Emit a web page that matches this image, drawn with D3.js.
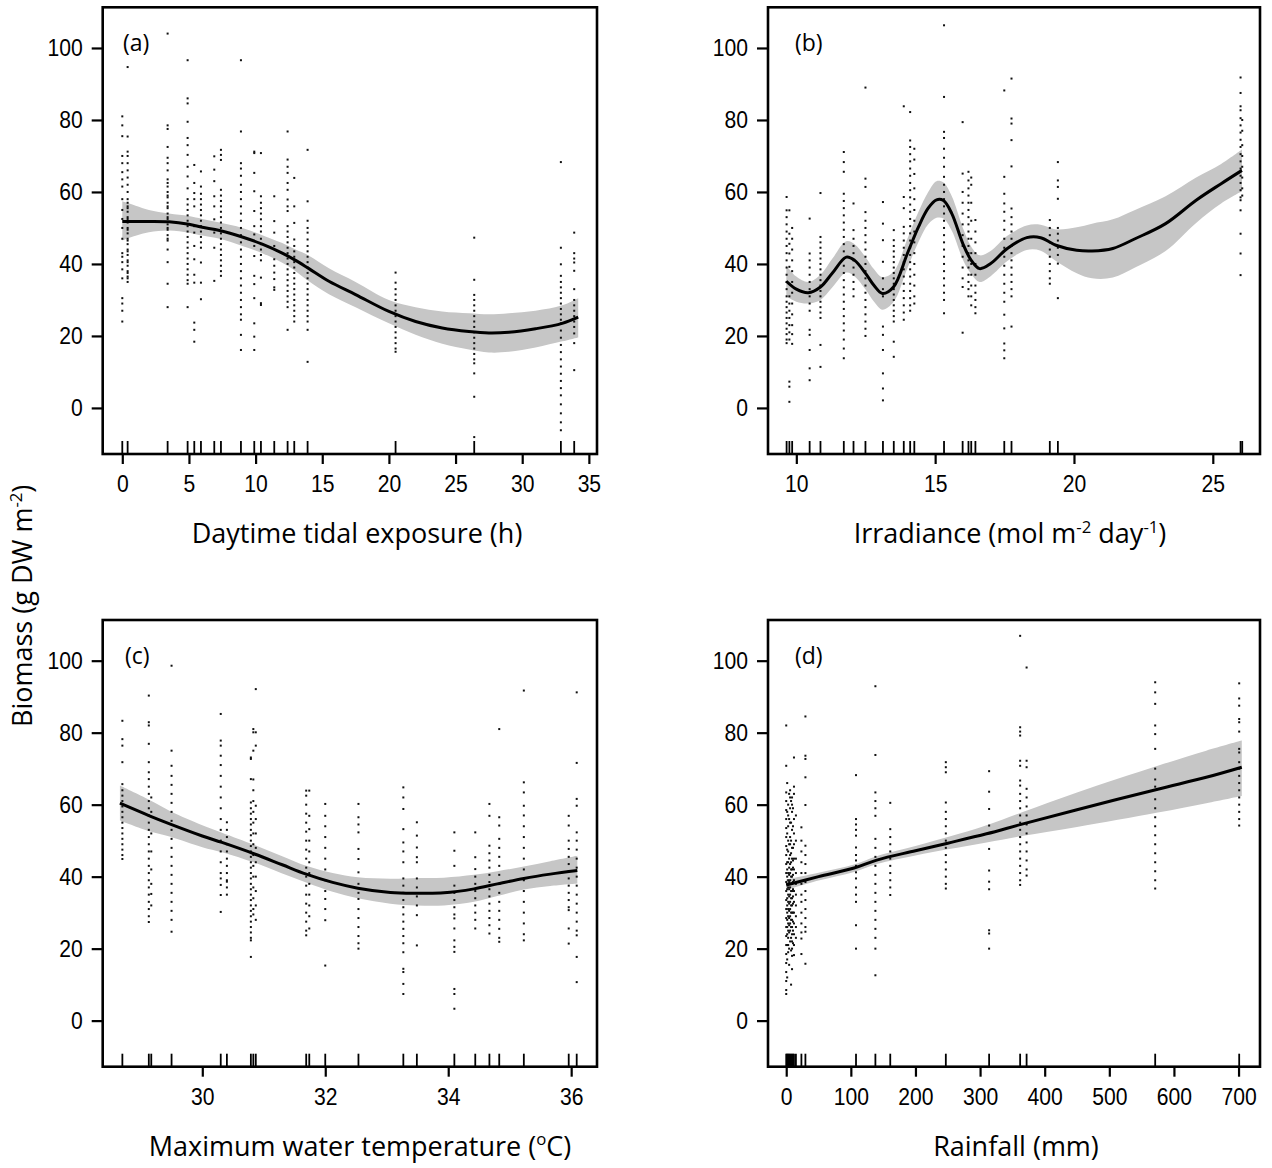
<!DOCTYPE html>
<html>
<head>
<meta charset="utf-8">
<script src="https://cdn.jsdelivr.net/npm/d3@7"></script>
<style>
  body { margin: 0; background: #fff; }
</style>
</head>
<body>
<svg id="chart" width="1272" height="1168"></svg>
<script>
// ---------- (a) daytime tidal exposure ----------
const aFitX  = [0, 1, 2, 3.5, 5, 6, 7.3, 9, 10.5, 12, 13, 14, 15.5, 17.5, 20, 22, 24, 26, 27.5, 29, 31, 33, 34.2];
const aFit   = [51.8, 51.8, 51.8, 51.7, 51.0, 50.2, 49.3, 47.5, 45.5, 43.0, 41.0, 38.7, 35.2, 31.5, 26.8, 24.0, 22.2, 21.2, 20.8, 21.0, 22.0, 23.5, 25.2];
const aUpper = [57.4, 56.2, 55.0, 54.0, 53.3, 52.5, 51.5, 50.0, 48.0, 45.8, 44.0, 42.3, 38.8, 35.0, 30.0, 28.0, 26.8, 26.3, 26.0, 26.3, 27.0, 28.5, 30.5];
const aLower = [46.5, 47.8, 48.8, 49.3, 48.7, 47.9, 47.0, 45.0, 43.0, 40.3, 38.0, 35.2, 31.6, 28.0, 23.5, 20.3, 17.8, 16.2, 15.4, 15.6, 16.8, 18.5, 19.6];
const aCols = [
  [0, [81, 78.5, 75.5, 70, 68, 65.5, 63.5, 61.5, 58, 55, 52.5, 50, 47, 43, 42, 40.5, 38.5, 36, 30.5, 29, 27, 24]],
  [0.4, [94.7, 75.4, 71.2, 70, 68, 66, 64, 62, 60, 58, 57, 56, 55.5, 54.5, 53, 52.5, 51.5, 50, 49.5, 48.5, 47, 46.5, 45.5, 44, 43.5, 42.5, 41, 40.5, 39.5, 38, 37.5, 36.5, 36, 35]],
  [3.4, [104, 78.5, 77.5, 72.5, 69.5, 68, 66, 63.5, 62.5, 61.5, 60, 59, 58.5, 57, 56, 55.5, 54, 53, 52.5, 51, 50, 49.5, 48, 47, 46.5, 44, 40.5, 34.5, 28]],
  [4.9, [96.6, 86, 84.6, 79.5, 75, 73, 70.3, 67, 64.3, 61, 58, 56.5, 55, 53.5, 52, 50.5, 49, 47.5, 46, 44.5, 43, 41.5, 40, 38.5, 37, 35.5, 34.5, 28]],
  [5.4, [67.5, 62.5, 59.7, 58, 56, 50.5, 48.7, 45, 41.3, 37, 34.8, 23.7, 21.7, 18.4]],
  [5.9, [65.7, 61.5, 59.5, 58, 56.5, 55, 53.5, 52, 50.5, 49, 47.5, 46, 44.5, 40.4, 34.8, 30.2]],
  [6.9, [69.9, 66.2, 63, 58.8, 56, 52.4, 48.7, 44.5, 35.3]],
  [7.4, [71.7, 70.3, 68.9, 60.6, 59, 57.5, 56, 54.5, 53, 51.5, 50, 48.5, 47, 45.5, 44, 42.5, 41, 39.5, 38, 36.7]],
  [8.9, [96.6, 76.8, 68, 66.5, 64.5, 62, 60, 58, 56, 54, 52, 50, 48, 46, 44, 42, 40, 38, 36, 34, 32, 30, 28, 26, 24.5, 20.3, 16.1]],
  [9.9, [71.2, 70.8, 65.3, 60.2, 54.7, 50.5, 48.2, 45, 42.2, 36.7, 34.4, 30.5, 23.5, 19.8, 16.1]],
  [10.4, [70.8, 58.8, 57, 55.5, 54, 52.4, 50.5, 49, 47, 45.5, 44, 42.5, 41, 36.2, 29.1, 28.6]],
  [11.4, [58.8, 51.9, 48.7, 45, 41.3, 39.5, 37.6, 35.8, 33.5, 32.8]],
  [12.4, [76.8, 69, 67, 65.3, 62.5, 60.6, 57.9, 56, 54.7, 50.5, 49, 47.5, 46, 44.5, 43, 41.5, 40, 38.5, 37, 35.5, 34, 32.5, 31, 29.5, 28, 21.7]],
  [12.9, [63.9, 56, 51.4, 46.8, 45, 43.5, 42, 40.5, 39, 37.5, 36, 34.5, 33, 31.5, 30, 28.5, 27, 25.5, 24]],
  [13.9, [71.7, 57.4, 52, 50, 48.7, 46.8, 45, 43.5, 42, 40.5, 39, 37.5, 36, 34.5, 33, 31.5, 30, 28.5, 27, 25.5, 24, 21.7, 12.8]],
  [20.5, [37.6, 34.8, 33, 31.5, 30, 28.5, 27, 25.5, 24, 22.5, 21, 19.5, 18, 16.5, 15.6]],
  [26.4, [47.3, 35.6, 31.4, 30, 28.5, 27, 25.5, 24, 22.5, 21, 19.5, 18, 16.5, 15, 13.5, 12.4, 9.6, 3.1, -8.1]],
  [32.9, [68.3, 44.5, 39.9, 36.7, 35, 33.5, 32, 30.5, 29, 27.5, 26, 24.5, 23.5, 21.5, 19.5, 17.5, 15.5, 13.5, 11.5, 9.5, 7.5, 5.5, 3.5, 1, -1.5, -4, -6.2]],
  [33.9, [48.7, 43, 41.5, 40.4, 38.1, 33, 30, 28.5, 27, 25.5, 24, 22.5, 20.7, 18, 10.5]]
];

// ---------- (b) irradiance ----------
const bFitX  = [9.64, 10.0, 10.43, 10.87, 11.3, 11.8, 12.1, 12.5, 12.8, 13.1, 13.5, 14.0, 14.4, 14.75, 15.05, 15.3, 15.6, 16.0, 16.3, 16.6, 17.0, 17.6, 18.3, 18.8, 19.35, 20.1, 20.65, 21.4, 22.2, 23.3, 24.4, 25.3, 26.05];
const bFit   = [35.2, 33.0, 32.0, 33.6, 37.5, 41.9, 41.0, 37.3, 34.0, 31.8, 33.6, 42.9, 50.3, 55.5, 57.8, 57.6, 54.0, 45.6, 41.0, 38.7, 40.1, 44.3, 47.3, 47.3, 45.2, 43.8, 43.6, 44.3, 47.0, 51.2, 57.7, 62.3, 66.0];
const bUpper = [39.6, 36.5, 35.0, 37.0, 41.5, 46.3, 45.5, 41.8, 38.5, 36.3, 37.8, 47.0, 54.5, 60.0, 63.0, 62.6, 58.8, 50.0, 44.8, 42.4, 43.6, 47.8, 50.7, 50.9, 49.6, 50.2, 51.2, 52.4, 55.0, 58.8, 64.0, 67.8, 71.8];
const bLower = [31.0, 29.5, 29.0, 30.0, 33.5, 37.6, 36.5, 32.8, 29.5, 27.3, 29.4, 38.8, 46.1, 51.0, 52.8, 52.6, 49.2, 41.2, 37.2, 35.0, 36.6, 40.8, 43.9, 43.7, 40.8, 37.4, 36.0, 36.2, 39.0, 43.6, 51.4, 56.8, 60.2];
const bCols = [
  [9.65, [58.6, 54.9, 53, 51, 49, 47, 45, 43, 41, 39, 37, 35, 33, 31, 29.5, 28, 26.5, 25, 23.5, 22, 20.5, 19, 18]],
  [9.75, [54.9, 48.4, 45.6, 42.9, 39.2, 34.5, 31, 29, 27, 25, 23, 21, 19, 7.3, 5.9, 1.7]],
  [9.85, [50, 47, 44, 41, 38, 35, 32, 29, 26, 23, 20.5, 17.8]],
  [10.48, [52.6, 42.9, 41, 39, 37, 35, 33, 31, 29, 27, 21.7, 20.3, 16.1, 11, 7.7]],
  [10.87, [59.7, 47.5, 46, 44.5, 43, 41.5, 40, 38.5, 37, 35.5, 34, 32.5, 31, 29.5, 28, 26.5, 25, 17.5, 11.4]],
  [11.71, [71.1, 68.3, 65.6, 59.5, 57.5, 55.5, 53.5, 51.5, 49.5, 47.5, 45.5, 43.5, 41.5, 39.5, 37.5, 35.5, 33.5, 31.5, 29.5, 27.5, 25.5, 23.5, 21.5, 19, 16.5, 13.8]],
  [12.06, [56.8, 49.4, 47, 45, 43, 41, 39, 37, 35, 33, 31]],
  [12.49, [89, 63.7, 61.4, 54.4, 52, 50, 48, 46, 44, 42, 40, 38, 36, 34, 32, 30, 28, 26, 24, 22, 20]],
  [13.12, [57.2, 51.2, 46.6, 40.6, 36, 33, 31, 22.6, 20.3, 16.1, 9.6, 5.4, 2.1]],
  [13.51, [49.4, 46.6, 45, 43.5, 42, 40.5, 39, 37.5, 36, 34.5, 33, 31.5, 30, 28.5, 27, 25.5, 24, 18.4, 14.2]],
  [13.87, [83.8, 58.6, 55.5, 50.3, 48.5, 46.5, 44.5, 42.5, 40.5, 38.5, 36.5, 34.5, 32.5, 30.5, 28.5, 26.5, 24.5]],
  [14.1, [82.2, 74.3, 72.5, 70.5, 68.5, 66.5, 64.5, 62.5, 60.5, 58.5, 56.5, 54.5, 52.5, 50.5, 48.5, 46.5, 44.5, 42.5, 40.5, 38.5, 36.5, 34.5, 32.5, 30.5, 28.5, 27]],
  [14.25, [72, 69, 65, 61, 58, 55, 52, 49, 46, 43, 40, 37, 34, 31, 29]],
  [15.32, [106.3, 86.4, 76.7, 75, 72, 69.5, 67, 64.2, 62, 60, 58, 56, 54, 52, 50, 48, 46, 44, 42, 40, 38, 36, 34, 32, 30, 26.3]],
  [15.99, [79.4, 65.1, 60, 57, 54, 51, 48, 45, 42, 39, 36, 33.6, 20.9]],
  [16.2, [65.6, 63.2, 61, 59, 57, 55, 53, 51, 49, 47, 45, 43, 41, 39, 37, 35, 33, 31]],
  [16.3, [64, 62, 57, 52, 47, 43, 40, 37, 34, 31, 28.5]],
  [16.45, [52.2, 49, 46, 43, 40, 37, 34, 32, 30, 28, 26.3]],
  [17.49, [88.2, 64.2, 59.5, 56.8, 54.5, 52, 49.5, 47, 44.5, 42, 39.5, 37, 34.5, 32, 29.5, 25.9, 22.1, 17.9, 16, 13.8]],
  [17.75, [91.5, 80.4, 79, 74.4, 67.1, 55.4, 53, 51, 49, 47, 45, 43, 41, 39, 37, 35, 33, 31, 22.6]],
  [19.13, [52.2, 50, 48, 46, 44, 42, 40, 38, 36, 34.5]],
  [19.42, [68.3, 63.2, 61.4, 58.1, 50, 48.4, 46.5, 44.5, 42.5, 40.1, 30.5]],
  [26.0, [91.8, 87.5, 83.8, 82.7, 80.5, 78.5, 76.5, 74.5, 72.5, 70.5, 68.5, 66.5, 64.5, 62.5, 60.5, 58.5, 57.7, 54.9, 48.4, 42.9, 36.9]],
  [26.06, [80, 77, 73, 70, 67, 64, 61, 59]]
];

// ---------- (c) maximum water temperature ----------
const cFitX  = [28.66, 29.14, 29.48, 30.0, 30.32, 30.85, 31.3, 31.69, 32.12, 32.53, 33.06, 33.49, 33.93, 34.42, 34.8, 35.23, 35.66, 36.1];
const cFit   = [60.4, 56.9, 54.6, 51.3, 49.5, 46.3, 43.3, 40.7, 38.4, 36.8, 35.6, 35.4, 35.5, 36.6, 38.0, 39.5, 40.7, 41.7];
const cUpper = [65.3, 61.3, 58.2, 54.3, 52.2, 48.8, 45.7, 43.0, 41.0, 39.8, 39.4, 39.6, 39.7, 40.5, 41.5, 42.8, 44.3, 45.8];
const cLower = [55.6, 52.6, 51.1, 48.2, 46.8, 43.9, 40.9, 38.4, 35.8, 34.0, 32.5, 32.0, 32.0, 33.0, 34.6, 36.4, 37.4, 38.1];
const cCols = [
  [28.7, [83.3, 78.2, 76.4, 71.8, 65.7, 64, 62.5, 61, 59.5, 58, 56.5, 55, 53.5, 52, 50.5, 49, 47.5, 46, 44.9]],
  [29.13, [90.3, 82.9, 82, 76.9, 71.8, 69, 67.1, 65, 63, 61, 59, 57, 55, 53, 51, 49, 47, 45, 43, 41, 39, 37, 35, 33, 31, 29, 27.4]],
  [29.17, [62, 58, 52, 47, 42, 38, 35.2, 32]],
  [29.5, [98.6, 75, 70.8, 68, 65.5, 63, 60.5, 58, 55.5, 53, 50.5, 48, 45.5, 43, 40.5, 38, 35.5, 33, 30.5, 28, 24.7]],
  [30.3, [85.2, 77.8, 76.4, 73.6, 71, 68, 65, 62, 59, 56, 53, 50, 47, 44, 41, 39.5, 37.7, 34.9, 30.2]],
  [30.4, [55.1, 53, 51, 49, 47, 45, 43, 41, 39, 38.6, 37, 35]],
  [30.79, [73.1, 72.7, 67.1, 60.6, 59, 57.5, 56, 54.5, 53, 51.5, 50, 48.5, 47, 45.5, 44, 42.5, 41, 39.5, 38, 36.5, 35, 33.5, 32, 30.5, 29, 27.5, 26, 24.5, 23, 22.3, 17.7]],
  [30.83, [81, 80.1, 75, 67, 64, 61, 58, 55, 52, 49, 46, 43, 40, 37, 34, 31, 29.5]],
  [30.87, [92.1, 80.1, 76.4, 59.7, 56, 52, 48, 44, 40, 36, 32, 28]],
  [31.69, [63.9, 62.5, 60, 57.5, 55, 52.5, 50, 47.5, 45, 42.5, 40, 37.5, 35, 32.5, 30, 27.5, 25, 23.7]],
  [31.74, [63.9, 56.9, 53.2, 50, 47, 44, 41, 38, 35, 32, 29, 25.6]],
  [32.0, [60.2, 56.9, 54, 51, 48, 45, 42, 39, 36, 33.8, 31, 27.9, 15.3]],
  [32.54, [60.2, 56.5, 54.5, 52.3, 47.7, 44.9, 41.2, 38, 35.5, 33.8, 31, 28.5, 26, 23.5, 21.5, 20]],
  [33.27, [64.8, 62, 58.8, 53.2, 49.5, 47, 44, 39.5, 37.5, 35.5, 33.5, 31.5, 29.5, 27.5, 25.5, 23.5, 21.5, 19, 14.4, 13.5, 10.2, 7.4]],
  [33.49, [55.1, 51.4, 48.1, 45.4, 44, 39.5, 37, 34.5, 32, 29.3, 20.9]],
  [34.1, [52.3, 47.2, 43, 37.5, 35.5, 33.5, 31.5, 29.5, 28.4, 25.6, 22.3, 20.5, 19.1, 8.8, 7.4, 3.3]],
  [34.44, [52.3, 45.4, 42.1, 40, 38, 36, 34, 32, 30, 28, 25.6]],
  [34.67, [60.2, 56.9, 48.6, 46.5, 44.5, 42.5, 40.5, 38.5, 36.5, 34.5, 32.5, 30.5, 28.5, 26.5, 24.2]],
  [34.83, [81, 56.5, 54.2, 50.5, 48, 45.5, 43, 40.5, 38, 35.5, 33, 30.5, 28, 25.5, 23, 21.9]],
  [35.23, [91.7, 66.2, 63.4, 59.7, 57, 54, 51, 48, 45, 42, 39, 36, 33, 30, 27, 24, 22.3]],
  [35.96, [56.9, 54.2, 50, 47.7, 45.5, 43.5, 41.5, 39.5, 37.5, 35.5, 33.5, 31.5, 30.7, 25.6, 21.4]],
  [36.09, [91.2, 71.6, 61.6, 59.7, 52.3, 50, 47.5, 45, 42.5, 40, 37.5, 35, 32.5, 30, 27.5, 25, 23.7, 17.7, 10.7]]
];

// ---------- (d) rainfall ----------
const dFitX  = [0, 50, 105, 140, 200, 250, 310, 365, 450, 575, 650, 705];
const dFit   = [37.7, 40.0, 42.4, 44.6, 47.2, 49.3, 51.9, 54.6, 58.6, 64.3, 67.6, 70.4];
const dUpper = [39.2, 41.1, 43.4, 45.7, 48.5, 51.0, 54.3, 57.9, 63.4, 70.8, 75.0, 77.8];
const dLower = [36.3, 38.9, 41.3, 43.5, 45.9, 47.6, 49.5, 51.3, 53.8, 57.8, 60.4, 62.4];
const dCols = [
  [0, [82, 70.8, 63.4, 61, 58.5, 56, 53.5, 51, 48.5, 46, 43.5, 41, 38.5, 36, 33.5, 31, 28.5, 26, 23.5, 21, 18.5, 16, 13.5, 11, 8.5, 7.4]],
  [1.5, [66, 58, 52, 47.5, 44, 42, 40, 38, 36.5, 34, 32, 30, 28, 26, 24, 21, 17, 12]],
  [3, [60, 57, 54, 50, 47, 44, 41, 39, 37, 35, 33, 31, 29, 27, 25, 23, 21, 19]],
  [4.5, [63, 56, 49, 45, 42.5, 40.5, 38.5, 36.5, 34.5, 32.5, 30.5, 28.5, 26.5, 24.5, 20, 15.5]],
  [6, [64, 62, 59, 55, 51, 49, 46, 43.5, 41, 39, 37, 35, 33, 31, 29, 27, 25, 22]],
  [7.5, [61, 55, 50, 46.5, 44, 42, 40, 38, 36, 34, 32, 30, 28, 26, 23, 19.5, 10]],
  [9, [62, 60, 58, 53, 48, 45, 42, 40, 38, 36, 34, 32, 30, 28, 26, 24, 22, 20, 18, 14.3]],
  [10.5, [59, 54, 48, 44.5, 42.5, 40.5, 38.5, 36.5, 34.5, 32.5, 30, 27.5, 25, 21.5]],
  [12, [73.1, 65, 63, 56, 52, 49, 45, 42, 39, 36, 33, 30, 27, 24, 21, 18.2]],
  [15, [57, 50, 45, 41, 38, 35, 32, 29, 26, 23]],
  [23.5, [53.7, 50, 47, 44, 41, 38, 35, 33, 30, 27, 24.5, 22.8, 18.5]],
  [29.7, [84.5, 73.6, 72.7, 67.6, 59.9, 48.6, 46, 43.5, 41, 38.5, 36, 33.5, 31, 28.5, 26, 24.7, 15.8]],
  [108, [68.2, 56, 54.5, 53, 51.4, 48.1, 46, 44.5, 43, 41.2, 39.5, 37, 35, 33, 26.5, 20]],
  [138, [92.9, 73.8, 63.4, 61, 59, 56.9, 50.5, 48, 45.5, 43, 40.5, 38, 35.5, 33, 30.5, 28, 25.5, 23, 20, 12.6]],
  [161, [60.5, 53.2, 51, 49, 47, 45, 43, 41, 39, 37, 34.9]],
  [247, [71.8, 70.4, 69, 60.6, 58, 56, 54, 52, 50, 48, 46, 44, 42, 40, 38, 36.7]],
  [314, [69.3, 63.6, 58.8, 54.2, 47.7, 41.7, 38.6, 36.5, 25.1, 24.2, 20]],
  [362, [106.9, 81.5, 80.3, 79.2, 72.2, 70.8, 66.7, 65.3, 63, 61, 59, 57, 55, 53, 51, 49, 47, 45, 43, 41, 39, 37.7]],
  [372, [98.1, 72.2, 70.4, 64.4, 62, 59.5, 57, 54.5, 52, 49.5, 47, 44.5, 42, 40.3]],
  [571, [94, 91.2, 88, 82, 79.6, 75.5, 70, 67, 65, 61.5, 59, 56.5, 54, 51.5, 49, 46.5, 44, 41.5, 39, 36.7]],
  [701, [93.7, 89.5, 87.5, 83.8, 82.9, 80.3, 75.5, 74.5, 71.8, 70, 68, 66, 64, 62, 60, 58, 56, 54.2]]
];

// ---------- shared text / ticks ----------
const yTicks = [0, 20, 40, 60, 80, 100];
const yTitle = [{ t: 'Biomass (g DW m' }, { t: '-2', sup: true }, { t: ')' }];

const panels = [
  { tag: '(a)', left: 102.7, right: 597, top: 7.3, xDom: [-1.47, 35.61], xTicks: [0, 5, 10, 15, 20, 25, 30, 35],
    fitX: aFitX, fit: aFit, up: aUpper, lo: aLower, cols: aCols,
    title: [{ t: 'Daytime tidal exposure (h)' }], tagX: 123, titleX: 357 },
  { tag: '(b)', left: 768, right: 1260, top: 7.3, xDom: [8.98, 26.7], xTicks: [10, 15, 20, 25],
    fitX: bFitX, fit: bFit, up: bUpper, lo: bLower, cols: bCols,
    title: [{ t: 'Irradiance (mol m' }, { t: '-2', sup: true }, { t: ' day' }, { t: '-1', sup: true }, { t: ')' }], tagX: 795, titleX: 1010 },
  { tag: '(c)', left: 102.7, right: 597, top: 620, xDom: [28.38, 36.42], xTicks: [30, 32, 34, 36],
    fitX: cFitX, fit: cFit, up: cUpper, lo: cLower, cols: cCols,
    title: [{ t: 'Maximum water temperature (' }, { t: 'o', sup: true }, { t: 'C)' }], tagX: 125, titleX: 360 },
  { tag: '(d)', left: 768, right: 1260, top: 620, xDom: [-28.2, 733.2], xTicks: [0, 100, 200, 300, 400, 500, 600, 700],
    fitX: dFitX, fit: dFit, up: dUpper, lo: dLower, cols: dCols,
    title: [{ t: 'Rainfall (mm)' }], tagX: 795, titleX: 1016 }
];

const yDom = [-12.8, 111.3];
const plotH = 446.7;
const tickFont = "'Liberation Sans', Arial, sans-serif";
const textFont = "'Open Sans', 'Noto Sans', sans-serif";
const squeeze = 0.88; // tick digits are narrow in the source

const svg = d3.select('#chart');

function writeParts(text, parts, size) {
  let raised = false;
  parts.forEach((p) => {
    const ts = text.append('tspan').text(p.t);
    if (p.sup) {
      ts.attr('font-size', size * 0.62).attr('dy', -size * 0.38);
      raised = true;
    } else if (raised) {
      ts.attr('dy', size * 0.38);
      raised = false;
    }
  });
}

panels.forEach((p) => {
  const bottom = p.top + plotH;
  const g = svg.append('g');
  const x = d3.scaleLinear().domain(p.xDom).range([p.left, p.right]);
  const y = d3.scaleLinear().domain(yDom).range([bottom, p.top]);
  const curve = d3.curveCatmullRom.alpha(0.5);

  // confidence band
  const bandRows = p.fitX.map((v, i) => [v, p.up[i], p.lo[i]]);
  g.append('path')
    .datum(bandRows)
    .attr('d', d3.area().x((d) => x(d[0])).y0((d) => y(d[2])).y1((d) => y(d[1])).curve(curve))
    .attr('fill', '#c6c6c6');

  // partial residual points
  const pts = p.cols.flatMap((c) => c[1].map((v) => [c[0], v]));
  g.append('g')
    .selectAll('rect')
    .data(pts)
    .join('rect')
    .attr('x', (d) => x(d[0]) - 1)
    .attr('y', (d) => y(d[1]) - 1)
    .attr('width', 2)
    .attr('height', 2)
    .attr('fill', '#111');

  // smooth
  g.append('path')
    .datum(p.fitX.map((v, i) => [v, p.fit[i]]))
    .attr('d', d3.line().x((d) => x(d[0])).y((d) => y(d[1])).curve(curve))
    .attr('fill', 'none')
    .attr('stroke', '#000')
    .attr('stroke-width', 3)
    .attr('stroke-linejoin', 'round');

  // rug
  g.append('g')
    .selectAll('line')
    .data(p.cols.map((c) => c[0]))
    .join('line')
    .attr('x1', (d) => x(d))
    .attr('x2', (d) => x(d))
    .attr('y1', bottom)
    .attr('y2', bottom - 13)
    .attr('stroke', '#000')
    .attr('stroke-width', 1.8);

  // y axis
  const ya = g.append('g')
    .attr('transform', `translate(${p.left},0)`)
    .call(d3.axisLeft(y).tickValues(yTicks).tickSize(11).tickPadding(9));
  ya.select('.domain').remove();
  ya.selectAll('line').attr('stroke', '#000').attr('stroke-width', 2.2);
  ya.selectAll('text')
    .attr('font-family', tickFont)
    .attr('font-size', 24)
    .attr('fill', '#000')
    .attr('x', -20 / squeeze)
    .attr('transform', `scale(${squeeze},1)`);

  // x axis
  const xa = g.append('g')
    .attr('transform', `translate(0,${bottom})`)
    .call(d3.axisBottom(x).tickValues(p.xTicks).tickSize(10).tickPadding(11));
  xa.select('.domain').remove();
  xa.selectAll('line').attr('stroke', '#000').attr('stroke-width', 2.2);
  xa.selectAll('text')
    .attr('font-family', tickFont)
    .attr('font-size', 24)
    .attr('fill', '#000')
    .attr('transform', `scale(${squeeze},1)`);

  // frame
  g.append('rect')
    .attr('x', p.left)
    .attr('y', p.top)
    .attr('width', p.right - p.left)
    .attr('height', plotH)
    .attr('fill', 'none')
    .attr('stroke', '#000')
    .attr('stroke-width', 2.6);

  // panel tag
  g.append('text')
    .attr('x', p.tagX)
    .attr('y', p.top + 44)
    .attr('font-family', textFont)
    .attr('font-size', 23)
    .text(p.tag);

  // x title
  const tt = g.append('text')
    .attr('x', p.titleX)
    .attr('y', bottom + 89)
    .attr('text-anchor', 'middle')
    .attr('font-family', textFont)
    .attr('font-size', 27);
  writeParts(tt, p.title, 27);
});

// shared y title
const yt = svg.append('text')
  .attr('transform', 'translate(32,727) rotate(-90)')
  .attr('font-family', textFont)
  .attr('font-size', 27);
writeParts(yt, yTitle, 27);
</script>
</body>
</html>
